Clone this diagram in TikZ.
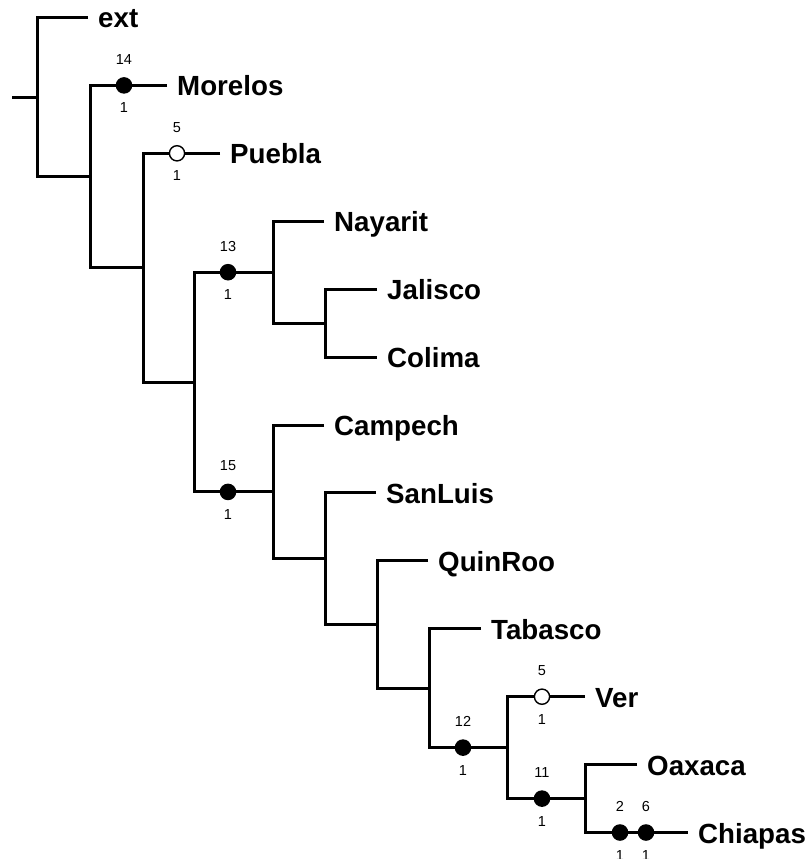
\documentclass[tikz,border=0pt]{standalone}
\usepackage{fontspec}
\setmainfont{Liberation Sans}
\tikzset{
  branch/.style={line width=3pt, line join=miter},
  taxon/.style={anchor=west, inner sep=0pt, text height=21pt, text depth=0pt,
    font=\bfseries\fontsize{27.7}{30}\selectfont},
  count/.style={anchor=base, inner sep=0pt, font=\fontsize{14.5}{16}\selectfont},
  solidmark/.style={circle, fill=black, inner sep=0pt, minimum size=16.6pt},
  hollowmark/.style={circle, draw=black, fill=white, line width=1.4pt,
    inner sep=0pt, minimum size=15.2pt},
}
% character change on a branch: marker, step number above, consistency index below
\newcommand\synapo[5]{%
  \node[#2] (#1) at (#3,#4) {};
  \node[count] (#1-up) at ([yshift=21pt]#1.center) {#5};
  \node[count] (#1-dn) at ([yshift=-27.5pt]#1.center) {1};
}
\begin{document}
\begin{tikzpicture}[x=1pt,y=-1pt]
\useasboundingbox (0,0) rectangle (811,859);

% internal nodes of the tree
\coordinate (stub) at (12,97);
\coordinate (nR) at (37,97);
\coordinate (nA) at (90,176.5);
\coordinate (nB) at (143,267.7);
\coordinate (nC) at (194,382);
\coordinate (nD) at (273,272.2);
\coordinate (nE) at (325,323.2);
\coordinate (nF) at (273,491.9);
\coordinate (nG) at (325,558.7);
\coordinate (nH) at (377,624.6);
\coordinate (nI) at (429,688.2);
\coordinate (nJ) at (507,747.6);
\coordinate (nK) at (585,798.6);

% terminal taxa
\node[taxon] (ext) at (98,17.5) {ext};
\node[taxon] (Morelos) at (177,85.4) {Morelos};
\node[taxon] (Puebla) at (230,153.3) {Puebla};
\node[taxon] (Nayarit) at (334,221.3) {Nayarit};
\node[taxon] (Jalisco) at (387,289.2) {Jalisco};
\node[taxon] (Colima) at (387,357.1) {Colima};
\node[taxon] (Campech) at (334,425) {Campech};
\node[taxon] (SanLuis) at (386,492.9) {SanLuis};
\node[taxon] (QuinRoo) at (438,560.9) {QuinRoo};
\node[taxon] (Tabasco) at (491,628.8) {Tabasco};
\node[taxon] (Ver) at (595,696.7) {Ver};
\node[taxon] (Oaxaca) at (647,764.6) {Oaxaca};
\node[taxon] (Chiapas) at (698,832.5) {Chiapas};

% branches
\draw[branch] (stub) -- (nR);
\draw[branch] ([xshift=-10pt]ext.west) -| (nR) |- (nA);
\draw[branch] ([xshift=-10pt]Morelos.west) -| (nA) |- (nB);
\draw[branch] ([xshift=-10pt]Puebla.west) -| (nB) |- (nC);
\draw[branch] (nD) -| (nC) |- (nF);
\draw[branch] ([xshift=-10pt]Nayarit.west) -| (nD) |- (nE);
\draw[branch] ([xshift=-10pt]Jalisco.west) -| (nE) |- ([xshift=-10pt]Colima.west);
\draw[branch] ([xshift=-10pt]Campech.west) -| (nF) |- (nG);
\draw[branch] ([xshift=-10pt]SanLuis.west) -| (nG) |- (nH);
\draw[branch] ([xshift=-10pt]QuinRoo.west) -| (nH) |- (nI);
\draw[branch] ([xshift=-10pt]Tabasco.west) -| (nI) |- (nJ);
\draw[branch] ([xshift=-10pt]Ver.west) -| (nJ) |- (nK);
\draw[branch] ([xshift=-10pt]Oaxaca.west) -| (nK) |- ([xshift=-10pt]Chiapas.west);

% character changes
\synapo{c14}{solidmark}{124}{85.4}{14}
\synapo{c5a}{hollowmark}{177}{153.3}{5}
\synapo{c13}{solidmark}{228}{272.2}{13}
\synapo{c15}{solidmark}{228}{491.9}{15}
\synapo{c12}{solidmark}{463}{747.6}{12}
\synapo{c5b}{hollowmark}{542}{696.7}{5}
\synapo{c11}{solidmark}{542}{798.6}{11}
\synapo{c2}{solidmark}{620}{832.5}{2}
\synapo{c6}{solidmark}{646}{832.5}{6}
\end{tikzpicture}
\end{document}
